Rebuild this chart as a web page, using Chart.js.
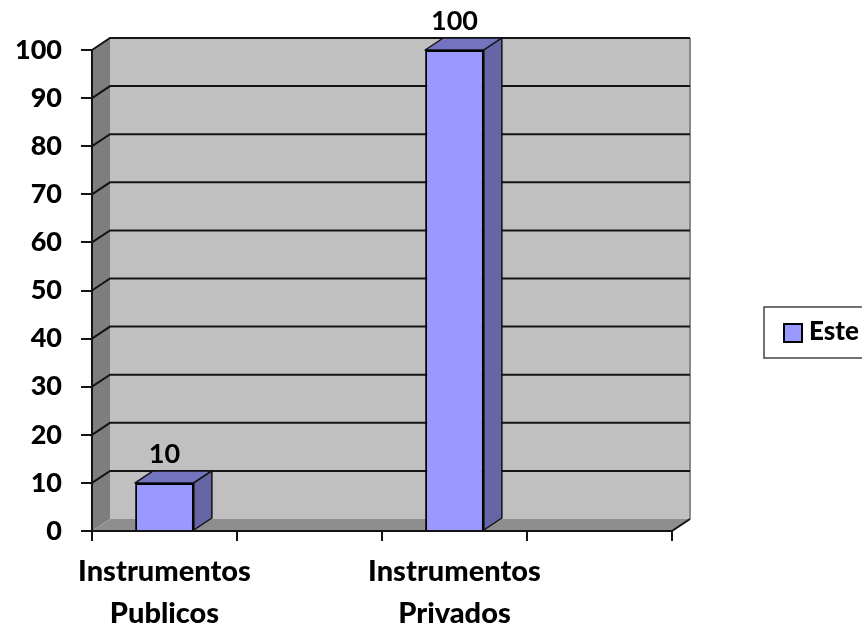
<!DOCTYPE html>
<html>
<head>
<meta charset="utf-8">
<script src="https://cdn.jsdelivr.net/npm/chart.js@4/dist/chart.umd.min.js"></script>
<style>
  html, body { margin: 0; padding: 0; background: #fff; overflow: hidden; }
  canvas { display: block; }
</style>
</head>
<body>
<canvas id="chart" width="862" height="626"></canvas>
<script>
// Instrument counts; the empty slots keep the four-band spacing of the category axis.
const categories = [["Instrumentos", "Publicos"], "", ["Instrumentos", "Privados"], ""];
const seriesName = "Este";
const seriesValues = [10, null, 100, null];
const yMin = 0;
const yMax = 100;
const yStep = 10;

const DEPTH_X = 18;
const DEPTH_Y = 12;
const FONT = "Lato, Carlito, sans-serif";
const LINE = "#141414";

function poly(ctx, pts, fill, stroke, width) {
  ctx.beginPath();
  pts.forEach((p, i) => (i ? ctx.lineTo(p[0], p[1]) : ctx.moveTo(p[0], p[1])));
  ctx.closePath();
  if (fill) { ctx.fillStyle = fill; ctx.fill(); }
  if (stroke) { ctx.strokeStyle = stroke; ctx.lineWidth = width; ctx.stroke(); }
}

// Back wall, side wall, floor and wall gridlines of the 3D box.
const box3d = {
  id: "box3d",
  beforeDraw(chart) {
    const { ctx, chartArea: a, scales: { y } } = chart;
    ctx.save();
    poly(ctx, [[a.left + DEPTH_X, a.top - DEPTH_Y], [a.right + DEPTH_X, a.top - DEPTH_Y],
               [a.right + DEPTH_X, a.bottom - DEPTH_Y], [a.left + DEPTH_X, a.bottom - DEPTH_Y]], "#c0c0c0");
    poly(ctx, [[a.left, a.top], [a.left + DEPTH_X, a.top - DEPTH_Y],
               [a.left + DEPTH_X, a.bottom - DEPTH_Y], [a.left, a.bottom]], "#7e7e7e");
    poly(ctx, [[a.left, a.bottom], [a.left + DEPTH_X, a.bottom - DEPTH_Y],
               [a.right + DEPTH_X, a.bottom - DEPTH_Y], [a.right, a.bottom]], "#8e8e8e");
    // Thin grey edge on the right of the back wall
    ctx.strokeStyle = "#8a8a8a";
    ctx.lineWidth = 2;
    ctx.beginPath();
    ctx.moveTo(a.right + DEPTH_X, a.top - DEPTH_Y);
    ctx.lineTo(a.right + DEPTH_X, a.bottom - DEPTH_Y);
    ctx.stroke();

    ctx.strokeStyle = LINE;
    ctx.lineWidth = 2;
    for (let v = yMin + yStep; v <= yMax; v += yStep) {
      const py = y.getPixelForValue(v);
      ctx.beginPath();
      ctx.moveTo(a.left, py);
      ctx.lineTo(a.left + DEPTH_X, py - DEPTH_Y);
      ctx.lineTo(a.right + DEPTH_X, py - DEPTH_Y);
      ctx.stroke();
    }
    // Front-right floor edge
    ctx.beginPath();
    ctx.moveTo(a.right, a.bottom);
    ctx.lineTo(a.right + DEPTH_X, a.bottom - DEPTH_Y);
    ctx.stroke();
    ctx.restore();
  },
  // Top and side faces of each bar, placed behind the front face.
  beforeDatasetsDraw(chart) {
    const { ctx } = chart;
    const meta = chart.getDatasetMeta(0);
    ctx.save();
    ctx.lineJoin = "round";
    meta.data.forEach((bar, i) => {
      if (seriesValues[i] === null) return;
      const half = bar.width / 2;
      const l = bar.x - half, r = bar.x + half, t = bar.y, b = bar.base;
      poly(ctx, [[l, t], [l + DEPTH_X, t - DEPTH_Y], [r + DEPTH_X, t - DEPTH_Y], [r, t]], "#7373bf", "#111", 1.5);
      poly(ctx, [[r, t], [r + DEPTH_X, t - DEPTH_Y], [r + DEPTH_X, b - DEPTH_Y], [r, b]], "#6666a6", "#111", 1.5);
    });
    ctx.restore();
  },
  // Value labels and the legend box.
  afterDatasetsDraw(chart) {
    const { ctx } = chart;
    const meta = chart.getDatasetMeta(0);
    ctx.save();
    ctx.fillStyle = "#000";
    ctx.font = "bold 27px " + FONT;
    ctx.textAlign = "center";
    ctx.textBaseline = "middle";
    meta.data.forEach((bar, i) => {
      if (seriesValues[i] === null) return;
      ctx.fillText(String(seriesValues[i]), bar.x, bar.y - 29);
    });

    ctx.fillStyle = "#fff";
    ctx.strokeStyle = "#444";
    ctx.lineWidth = 1.5;
    ctx.fillRect(764, 307, 110, 51);
    ctx.strokeRect(764, 307, 110, 51);
    ctx.fillStyle = "#9999ff";
    ctx.strokeStyle = "#000";
    ctx.lineWidth = 2;
    ctx.fillRect(784, 324, 18, 18);
    ctx.strokeRect(784, 324, 18, 18);
    ctx.fillStyle = "#000";
    ctx.font = "900 26px " + FONT;
    ctx.textAlign = "left";
    ctx.fillText(seriesName, 809, 332);
    ctx.restore();
  }
};

new Chart(document.getElementById("chart"), {
  type: "bar",
  data: {
    labels: categories,
    datasets: [{
      label: seriesName,
      data: seriesValues,
      backgroundColor: "#9999ff",
      borderColor: "#000",
      borderWidth: 2,
      barPercentage: 0.81,
      categoryPercentage: 0.5
    }]
  },
  options: {
    responsive: false,
    animation: false,
    layout: { padding: { top: 50, right: 190, bottom: 0, left: 0 } },
    plugins: { legend: { display: false }, tooltip: { enabled: false } },
    scales: {
      x: {
        afterFit(scale) { scale.height = 95; },
        border: { color: LINE, width: 2 },
        grid: { drawOnChartArea: false, color: LINE, lineWidth: 2, tickLength: 10, offset: true },
        ticks: {
          color: "#000",
          font: { family: FONT, size: 29, weight: "900", lineHeight: 1.45 },
          padding: 10,
          autoSkip: false,
          maxRotation: 0,
          minRotation: 0
        }
      },
      y: {
        min: yMin,
        max: yMax,
        afterFit(scale) { scale.width = 92; },
        border: { color: LINE, width: 2 },
        grid: { drawOnChartArea: false, color: LINE, lineWidth: 2, tickLength: 11 },
        ticks: {
          stepSize: yStep,
          color: "#000",
          font: { family: FONT, size: 27, weight: "900" },
          padding: 19
        }
      }
    }
  },
  plugins: [box3d]
});
</script>
</body>
</html>
